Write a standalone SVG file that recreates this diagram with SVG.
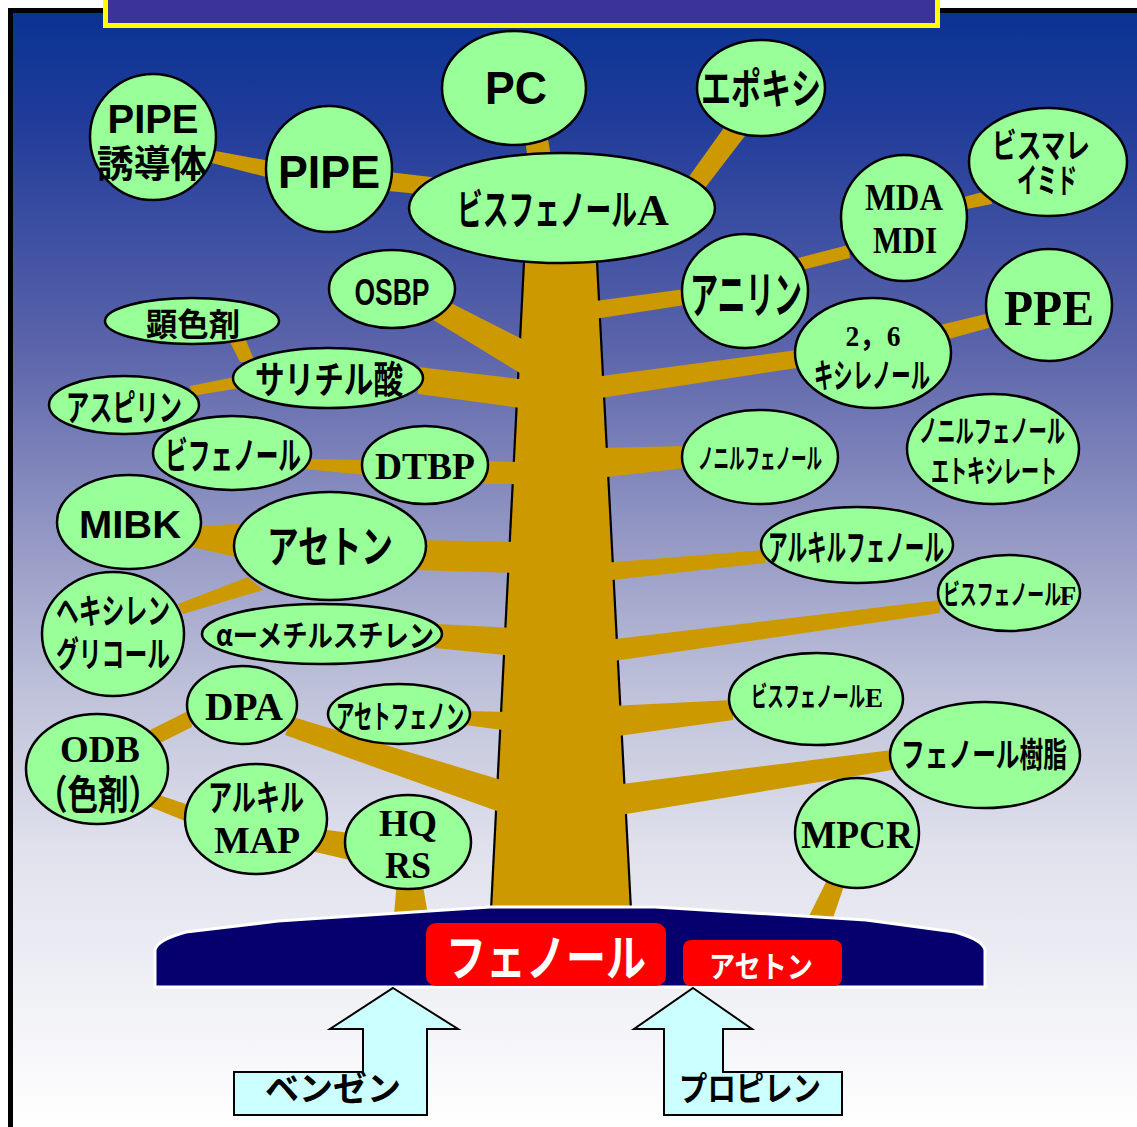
<svg xmlns="http://www.w3.org/2000/svg" width="1137" height="1127" viewBox="0 0 1137 1127">
  <defs>
    <linearGradient id="sky" gradientUnits="userSpaceOnUse" x1="0" y1="13" x2="0" y2="1127">
      <stop offset="0" stop-color="#0a3394"/>
      <stop offset="0.1" stop-color="#213c9a"/>
      <stop offset="0.3" stop-color="#5b64aa"/>
      <stop offset="0.45" stop-color="#8d92c1"/>
      <stop offset="0.6" stop-color="#bcbfd8"/>
      <stop offset="0.75" stop-color="#e0e1ec"/>
      <stop offset="1" stop-color="#ffffff"/>
    </linearGradient>
    <style>
      .n ellipse { fill: #99ff99; stroke: #000; stroke-width: 2.5; }
      .br polygon { fill: #cc9900; }
      .j { font-family: "Noto Sans CJK JP", sans-serif; font-weight: bold; fill: #000; text-anchor: middle; }
      .s { font-family: "Liberation Serif", "Noto Sans CJK JP", serif; font-weight: bold; fill: #000; text-anchor: middle; }
      .a { font-family: "Liberation Sans", "Noto Sans CJK JP", sans-serif; font-weight: bold; fill: #000; text-anchor: middle; }
      .w { fill: #fff; }
      .arrow { fill: #ccffff; stroke: #000; stroke-width: 2; }
      .box { fill: #ff0000; }
    </style>
  </defs>

  <!-- framed sky background -->
  <rect x="10.5" y="10.5" width="1140" height="1130" fill="url(#sky)" stroke="#000" stroke-width="5"/>

  <!-- title plate at the top edge -->
  <rect x="105.5" y="-20" width="832" height="45.5" fill="#3a3399" stroke="#ffff00" stroke-width="5"/>

  <!-- trunk and branches -->
  <g id="connectors" class="br">
    <polygon points="524,262 597,262 631,910 491,910"/>
    <line x1="524" y1="262" x2="491" y2="910" stroke="#000" stroke-width="2.2"/>
    <line x1="597" y1="262" x2="631" y2="910" stroke="#000" stroke-width="2.2"/>
    <!-- left-hand branches -->
    <polygon points="445,300 528,342 528,378 430,318"/>
    <polygon points="418,367 528,380 528,409 418,394"/>
    <polygon points="480,461 524,462 524,484 480,484"/>
    <polygon points="415,540 520,542 520,573 415,570"/>
    <polygon points="435,624 515,628 515,656 435,648"/>
    <polygon points="465,711 510,712 510,731 465,725"/>
    <polygon points="293,717 508,782 508,815 285,735"/>
    <!-- right-hand branches -->
    <polygon points="588,302 685,289 685,305 588,320"/>
    <polygon points="594,377 797,350 797,368 594,399"/>
    <polygon points="598,448 686,446 686,468 598,478"/>
    <polygon points="603,563 765,550 765,563 603,581"/>
    <polygon points="607,640 940,600 940,613 607,662"/>
    <polygon points="611,706 733,700 733,720 611,737"/>
    <polygon points="614,785 892,750 892,770 614,816"/>
    <!-- twigs between nodes -->
    <polygon points="524,130 546,128 552,162 528,162"/>
    <polygon points="728,122 748,132 705,188 688,178"/>
    <polygon points="210,150 270,161 270,178 208,162"/>
    <polygon points="388,172 440,178 440,196 388,191"/>
    <polygon points="960,198 990,190 992,204 962,210"/>
    <polygon points="798,258 848,245 850,258 802,270"/>
    <polygon points="940,325 990,313 992,327 945,340"/>
    <polygon points="228,338 245,338 255,362 240,362"/>
    <polygon points="190,386 240,376 240,388 192,396"/>
    <polygon points="305,459 366,460 366,475 305,469"/>
    <polygon points="195,526 240,524 240,558 192,547"/>
    <polygon points="178,604 248,577 263,590 183,614"/>
    <polygon points="150,730 190,710 192,727 156,745"/>
    <polygon points="150,792 192,806 190,823 148,806"/>
    <polygon points="320,829 350,833 350,860 315,852"/>
    <polygon points="397,880 422,880 428,915 394,915"/>
    <polygon points="827,880 845,883 833,918 808,918"/>
  </g>

  <!-- nodes -->
  <g id="pc" class="n"><ellipse cx="514" cy="88" rx="72" ry="57"/>
    <text class="a" x="516" y="104" font-size="46" textLength="62" lengthAdjust="spacingAndGlyphs">PC</text></g>
  <g id="epoxy" class="n"><ellipse cx="761" cy="88" rx="64" ry="48"/>
    <text class="j" x="761" y="104" font-size="42" textLength="120" lengthAdjust="spacingAndGlyphs">エポキシ</text></g>
  <g id="pipe-deriv" class="n"><ellipse cx="153" cy="137" rx="63" ry="63"/>
    <text class="a" x="153" y="133" font-size="40" textLength="91" lengthAdjust="spacingAndGlyphs">PIPE</text>
    <text class="j" x="152" y="177" font-size="38" textLength="110" lengthAdjust="spacingAndGlyphs">誘導体</text></g>
  <g id="pipe" class="n"><ellipse cx="329" cy="169" rx="63" ry="63"/>
    <text class="a" x="329" y="188" font-size="46" textLength="102" lengthAdjust="spacingAndGlyphs">PIPE</text></g>
  <g id="bpa" class="n"><ellipse cx="562" cy="208" rx="153" ry="55"/>
    <text class="j" x="547" y="225" font-size="42" textLength="180" lengthAdjust="spacingAndGlyphs">ビスフェノール</text>
    <text class="s" x="653" y="225" font-size="44">A</text></g>
  <g id="osbp" class="n"><ellipse cx="392" cy="289" rx="63" ry="39"/>
    <text class="a" x="392" y="305" font-size="36" textLength="75" lengthAdjust="spacingAndGlyphs">OSBP</text></g>
  <g id="developer" class="n"><ellipse cx="192" cy="321" rx="87" ry="23"/>
    <text class="j" x="193" y="336" font-size="32" textLength="94" lengthAdjust="spacingAndGlyphs">顕色剤</text></g>
  <g id="mda" class="n"><ellipse cx="904" cy="218" rx="63" ry="63"/>
    <text class="s" x="904" y="210" font-size="37" textLength="78" lengthAdjust="spacingAndGlyphs">MDA</text>
    <text class="s" x="905" y="253" font-size="37" textLength="64" lengthAdjust="spacingAndGlyphs">MDI</text></g>
  <g id="bismaleimide" class="n"><ellipse cx="1048" cy="162" rx="79" ry="54"/>
    <text class="j" x="1041" y="158" font-size="34" textLength="98" lengthAdjust="spacingAndGlyphs">ビスマレ</text>
    <text class="j" x="1047" y="193" font-size="34" textLength="60" lengthAdjust="spacingAndGlyphs">イミド</text></g>
  <g id="aniline" class="n"><ellipse cx="745" cy="291" rx="63" ry="57"/>
    <text class="j" x="746" y="313" font-size="50" textLength="112" lengthAdjust="spacingAndGlyphs">アニリン</text></g>
  <g id="ppe" class="n"><ellipse cx="1049" cy="305" rx="63" ry="56"/>
    <text class="s" x="1049" y="325" font-size="50" textLength="90" lengthAdjust="spacingAndGlyphs">PPE</text></g>
  <g id="xylenol" class="n"><ellipse cx="873" cy="353" rx="78" ry="55"/>
    <text class="s" x="873" y="346" font-size="30" textLength="55" lengthAdjust="spacingAndGlyphs">2，6</text>
    <text class="j" x="872" y="388" font-size="34" textLength="116" lengthAdjust="spacingAndGlyphs">キシレノール</text></g>
  <g id="salicylic" class="n"><ellipse cx="328" cy="378" rx="95" ry="30"/>
    <text class="j" x="329" y="393" font-size="38" textLength="148" lengthAdjust="spacingAndGlyphs">サリチル酸</text></g>
  <g id="aspirin" class="n"><ellipse cx="124" cy="405" rx="75" ry="29"/>
    <text class="j" x="124" y="421" font-size="36" textLength="116" lengthAdjust="spacingAndGlyphs">アスピリン</text></g>
  <g id="biphenol" class="n"><ellipse cx="232" cy="453" rx="79" ry="37"/>
    <text class="j" x="233" y="469" font-size="38" textLength="136" lengthAdjust="spacingAndGlyphs">ビフェノール</text></g>
  <g id="dtbp" class="n"><ellipse cx="425" cy="465" rx="63" ry="39"/>
    <text class="s" x="425" y="479" font-size="37" textLength="100" lengthAdjust="spacingAndGlyphs">DTBP</text></g>
  <g id="nonylphenol" class="n"><ellipse cx="760" cy="457" rx="78" ry="47"/>
    <text class="j" x="760" y="469" font-size="28" textLength="124" lengthAdjust="spacingAndGlyphs">ノニルフェノール</text></g>
  <g id="npe" class="n"><ellipse cx="993" cy="449" rx="86" ry="55"/>
    <text class="j" x="992" y="442" font-size="31" textLength="146" lengthAdjust="spacingAndGlyphs">ノニルフェノール</text>
    <text class="j" x="994" y="482" font-size="31" textLength="126" lengthAdjust="spacingAndGlyphs">エトキシレート</text></g>
  <g id="mibk" class="n"><ellipse cx="129" cy="522" rx="72" ry="47"/>
    <text class="a" x="130" y="538" font-size="39" textLength="102" lengthAdjust="spacingAndGlyphs">MIBK</text></g>
  <g id="acetone" class="n"><ellipse cx="330" cy="546" rx="96" ry="54"/>
    <text class="j" x="330" y="563" font-size="44" textLength="126" lengthAdjust="spacingAndGlyphs">アセトン</text></g>
  <g id="alkylphenol" class="n"><ellipse cx="857" cy="545" rx="96" ry="38"/>
    <text class="j" x="856" y="561" font-size="36" textLength="176" lengthAdjust="spacingAndGlyphs">アルキルフェノール</text></g>
  <g id="hexylene" class="n"><ellipse cx="113" cy="634" rx="71" ry="62"/>
    <text class="j" x="113" y="624" font-size="35" textLength="114" lengthAdjust="spacingAndGlyphs">ヘキシレン</text>
    <text class="j" x="113" y="667" font-size="35" textLength="114" lengthAdjust="spacingAndGlyphs">グリコール</text></g>
  <g id="ams" class="n"><ellipse cx="322" cy="634" rx="120" ry="30"/>
    <text class="j" x="325" y="646" font-size="30" textLength="218" lengthAdjust="spacingAndGlyphs">αーメチルスチレン</text></g>
  <g id="bpf" class="n"><ellipse cx="1009" cy="593" rx="71" ry="38"/>
    <text class="j" x="1002" y="605" font-size="28" textLength="118" lengthAdjust="spacingAndGlyphs">ビスフェノール</text>
    <text class="s" x="1068" y="605" font-size="27">F</text></g>
  <g id="dpa" class="n"><ellipse cx="242" cy="705" rx="55" ry="39"/>
    <text class="s" x="244" y="720" font-size="40" textLength="78" lengthAdjust="spacingAndGlyphs">DPA</text></g>
  <g id="acetophenone" class="n"><ellipse cx="399" cy="714" rx="71" ry="30"/>
    <text class="j" x="400" y="728" font-size="32" textLength="128" lengthAdjust="spacingAndGlyphs">アセトフェノン</text></g>
  <g id="bpe" class="n"><ellipse cx="816" cy="699" rx="87" ry="46"/>
    <text class="j" x="808" y="707" font-size="28" textLength="114" lengthAdjust="spacingAndGlyphs">ビスフェノール</text>
    <text class="s" x="874" y="707" font-size="27">E</text></g>
  <g id="resin" class="n"><ellipse cx="985" cy="755" rx="95" ry="53"/>
    <text class="j" x="984" y="767" font-size="34" textLength="166" lengthAdjust="spacingAndGlyphs">フェノール樹脂</text></g>
  <g id="mpcr" class="n"><ellipse cx="857" cy="833" rx="62" ry="55"/>
    <text class="s" x="857" y="848" font-size="40" textLength="112" lengthAdjust="spacingAndGlyphs">MPCR</text></g>
  <g id="odb" class="n"><ellipse cx="97" cy="769" rx="71" ry="55"/>
    <text class="s" x="100" y="762" font-size="38" textLength="80" lengthAdjust="spacingAndGlyphs">ODB</text>
    <text class="j" x="98" y="809" font-size="40" textLength="122" lengthAdjust="spacingAndGlyphs">（色剤）</text></g>
  <g id="alkylmap" class="n"><ellipse cx="256" cy="819" rx="71" ry="55"/>
    <text class="j" x="256" y="811" font-size="36" textLength="96" lengthAdjust="spacingAndGlyphs">アルキル</text>
    <text class="s" x="257" y="853" font-size="38" textLength="86" lengthAdjust="spacingAndGlyphs">MAP</text></g>
  <g id="hqrs" class="n"><ellipse cx="408" cy="842" rx="63" ry="47"/>
    <text class="s" x="408" y="836" font-size="37" textLength="58" lengthAdjust="spacingAndGlyphs">HQ</text>
    <text class="s" x="408" y="878" font-size="37" textLength="46" lengthAdjust="spacingAndGlyphs">RS</text></g>

  <!-- ground: phenol and acetone -->
  <g id="ground">
    <path d="M155,987 L155,950 Q157,940 186,932 L278,921 L490,907 L655,907 L866,920 L955,932 Q983,940 985,950 L985,987 Z" fill="#06006e" stroke="#fff" stroke-width="3"/>
  </g>
  <g id="phenol">
    <rect class="box" x="426" y="923" width="240" height="63" rx="10"/>
    <text class="j w" x="546" y="976" font-size="50" textLength="200" lengthAdjust="spacingAndGlyphs">フェノール</text>
  </g>
  <g id="acetone-product">
    <rect class="box" x="683" y="940" width="159" height="46" rx="8"/>
    <text class="j w" x="761" y="977" font-size="30" textLength="104" lengthAdjust="spacingAndGlyphs">アセトン</text>
  </g>

  <!-- raw material feeds -->
  <g id="benzene">
    <polygon class="arrow" points="393,988 458,1029 427,1029 427,1115 234,1115 234,1072 363,1072 363,1029 330,1029"/>
    <text class="j" x="333" y="1101" font-size="34" textLength="136" lengthAdjust="spacingAndGlyphs">ベンゼン</text>
  </g>
  <g id="propylene">
    <polygon class="arrow" points="693,988 752,1029 723,1029 723,1072 842,1072 842,1115 664,1115 664,1029 634,1029"/>
    <text class="j" x="750" y="1101" font-size="34" textLength="142" lengthAdjust="spacingAndGlyphs">プロピレン</text>
  </g>
</svg>
